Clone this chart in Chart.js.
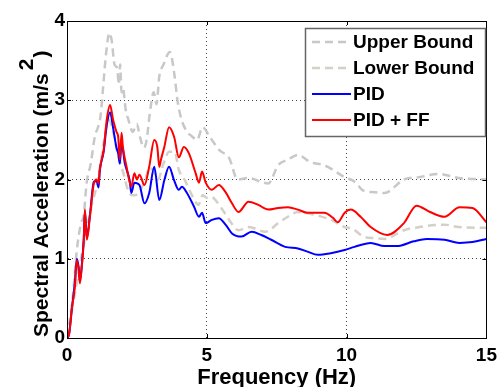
<!DOCTYPE html>
<html>
<head>
<meta charset="utf-8">
<script src="https://cdn.jsdelivr.net/npm/chart.js@4.4.1/dist/chart.umd.min.js"></script>
<style>
  html, body { margin: 0; padding: 0; background: #fff; overflow: hidden; }
  #wrap { width: 503px; height: 387px; position: relative; }
</style>
</head>
<body>
<div id="wrap"><canvas id="c" width="503" height="387"></canvas></div>
<script>
// Response spectra: [frequency (Hz), spectral acceleration (m/s^2)]
const upperBound = [[0,0],[0.2,0.5],[0.35,1.1],[0.5,1.45],[0.6,1.55],[0.7,1.95],[0.85,2.2],[1.0,2.55],[1.1,2.65],[1.2,2.8],[1.3,3.2],[1.4,3.6],[1.52,3.85],[1.6,3.75],[1.7,3.45],[1.8,3.4],[1.85,3.2],[1.9,3.45],[1.95,3.1],[2.0,3.15],[2.1,2.88],[2.2,2.75],[2.35,2.6],[2.5,2.7],[2.6,2.55],[2.75,2.4],[2.85,2.5],[2.95,2.8],[3.1,3.1],[3.2,2.95],[3.3,3.3],[3.45,3.45],[3.68,3.61],[3.85,3.3],[3.95,3.0],[4.1,2.75],[4.3,2.6],[4.45,2.55],[4.65,2.5],[4.85,2.66],[5.1,2.54],[5.45,2.37],[5.8,2.27],[6.1,2.0],[6.5,2.02],[6.95,1.97],[7.2,1.95],[7.55,2.18],[7.9,2.25],[8.26,2.31],[8.7,2.22],[9.2,2.18],[9.93,2.03],[10.3,1.97],[10.6,1.86],[11.0,1.84],[11.35,1.83],[12.05,2.0],[12.6,2.03],[13.3,2.07],[14.0,2.02],[15,2.0]];

const lowerBound = [[0,0],[0.3,0.6],[0.5,1.0],[0.7,1.35],[0.9,1.7],[1.05,1.9],[1.2,2.2],[1.35,2.55],[1.5,2.75],[1.65,2.6],[1.8,2.35],[2.0,2.1],[2.2,1.85],[2.4,1.8],[2.6,1.85],[2.8,2.0],[2.95,2.15],[3.1,2.1],[3.25,2.0],[3.45,2.2],[3.65,2.35],[3.85,2.35],[4.0,2.12],[4.2,2.0],[4.5,1.78],[4.7,1.68],[4.85,1.8],[5.0,1.77],[5.15,1.78],[5.5,1.65],[5.8,1.49],[6.13,1.36],[6.5,1.4],[7.1,1.34],[7.55,1.45],[7.9,1.53],[8.26,1.59],[8.9,1.55],[9.45,1.49],[9.93,1.4],[10.2,1.38],[10.6,1.28],[11.0,1.26],[11.35,1.25],[12.05,1.36],[12.6,1.4],[13.5,1.43],[14.0,1.4],[15,1.39]];

const pid = [[0,0],[0.07,0.04],[0.18,0.39],[0.28,0.7],[0.35,1.0],[0.42,0.88],[0.46,0.72],[0.53,0.92],[0.6,1.26],[0.64,1.6],[0.71,1.26],[0.82,1.55],[0.96,1.97],[1.06,1.98],[1.13,1.9],[1.17,2.1],[1.31,2.35],[1.42,2.68],[1.54,2.85],[1.65,2.65],[1.77,2.4],[1.83,2.33],[1.89,2.2],[1.95,2.46],[2.07,2.2],[2.24,1.99],[2.3,1.83],[2.41,1.96],[2.59,1.93],[2.77,1.7],[2.94,1.83],[3.12,2.16],[3.3,1.74],[3.48,1.99],[3.65,2.16],[3.83,1.99],[4.0,1.87],[4.11,1.91],[4.29,1.83],[4.54,1.66],[4.72,1.53],[4.83,1.58],[4.96,1.45],[5.18,1.49],[5.43,1.51],[5.67,1.43],[5.9,1.32],[6.24,1.28],[6.6,1.34],[6.95,1.3],[7.3,1.24],[7.8,1.15],[8.26,1.13],[8.6,1.09],[8.97,1.05],[9.43,1.07],[9.93,1.11],[10.28,1.15],[10.86,1.2],[11.35,1.16],[11.8,1.16],[12.4,1.22],[12.87,1.25],[13.5,1.24],[14.04,1.2],[14.5,1.21],[15,1.25]];

const pidFF = [[0,0],[0.07,0.04],[0.18,0.39],[0.28,0.64],[0.35,0.98],[0.42,0.85],[0.46,0.69],[0.53,0.9],[0.6,1.24],[0.64,1.62],[0.71,1.24],[0.82,1.53],[0.96,1.95],[1.06,2.0],[1.13,1.95],[1.17,2.12],[1.31,2.37],[1.42,2.75],[1.54,2.94],[1.65,2.75],[1.77,2.6],[1.83,2.54],[1.89,2.25],[1.95,2.59],[2.0,2.41],[2.13,2.16],[2.3,1.91],[2.41,2.08],[2.5,2.0],[2.59,2.06],[2.77,1.93],[2.94,2.16],[3.12,2.5],[3.23,2.41],[3.3,2.16],[3.36,2.25],[3.48,2.41],[3.65,2.66],[3.83,2.54],[4.0,2.28],[4.18,2.41],[4.36,2.33],[4.6,2.08],[4.72,1.96],[4.83,2.1],[4.96,1.96],[5.18,1.87],[5.43,1.93],[5.67,1.84],[5.9,1.7],[6.13,1.59],[6.49,1.72],[6.84,1.68],[7.2,1.62],[7.55,1.64],[7.9,1.65],[8.26,1.62],[8.6,1.58],[9.2,1.58],[9.5,1.52],[9.68,1.46],[9.93,1.58],[10.15,1.62],[10.5,1.53],[10.86,1.4],[11.45,1.3],[12.05,1.45],[12.5,1.67],[12.98,1.59],[13.5,1.53],[14.04,1.65],[14.5,1.64],[15,1.46]];

const seriesLabels = ['Upper Bound', 'Lower Bound', 'PID', 'PID + FF'];
const xTicks = [0, 5, 10, 15];
const yTicks = [0, 1, 2, 3, 4];

const FONT = "'Liberation Sans', Arial, sans-serif";
const toPoints = arr => arr.map(([x, y]) => ({ x, y }));

const styles = [
  { color: 'rgb(200,200,200)', width: 2.5, dash: [8, 5], order: 4 },
  { color: 'rgb(212,208,200)', width: 2.5, dash: [8, 5], order: 3 },
  { color: 'rgb(0,0,255)',     width: 2,   dash: [],     order: 2 },
  { color: 'rgb(255,0,0)',     width: 2,   dash: [],     order: 1 }
];
const seriesData = [upperBound, lowerBound, pid, pidFF];

const datasets = seriesData.map((d, i) => ({
  label: seriesLabels[i],
  data: toPoints(d),
  borderColor: styles[i].color,
  borderWidth: styles[i].width,
  borderDash: styles[i].dash,
  order: styles[i].order,
  pointRadius: 0,
  fill: false,
  cubicInterpolationMode: 'monotone'
}));

// Axes frame, inward ticks, legend and axis titles
const decorations = {
  id: 'decorations',
  afterDraw(chart) {
    const { ctx, chartArea: a, scales } = chart;
    ctx.save();
    // box
    ctx.strokeStyle = '#000';
    ctx.lineWidth = 1;
    ctx.setLineDash([]);
    ctx.strokeRect(Math.round(a.left) + 0.5, Math.round(a.top) + 0.5,
                   Math.round(a.right - a.left), Math.round(a.bottom - a.top));
    // inward tick marks
    const tl = 4;
    ctx.beginPath();
    xTicks.forEach(v => {
      const px = Math.round(scales.x.getPixelForValue(v)) + 0.5;
      ctx.moveTo(px, a.bottom); ctx.lineTo(px, a.bottom - tl);
      ctx.moveTo(px, a.top); ctx.lineTo(px, a.top + tl);
    });
    yTicks.forEach(v => {
      const py = Math.round(scales.y.getPixelForValue(v)) + 0.5;
      ctx.moveTo(a.left, py); ctx.lineTo(a.left + tl, py);
      ctx.moveTo(a.right, py); ctx.lineTo(a.right - tl, py);
    });
    ctx.stroke();

    // legend
    const lx = 305, ly = 28, lw = 180, lh = 108;
    ctx.fillStyle = '#fff';
    ctx.fillRect(lx, ly, lw, lh);
    ctx.strokeStyle = '#666';
    ctx.lineWidth = 1.5;
    ctx.strokeRect(lx + 0.5, ly + 0.5, lw, lh);
    ctx.font = 'bold 19px ' + FONT;
    ctx.textBaseline = 'middle';
    ctx.textAlign = 'left';
    chart.data.datasets.forEach((ds, i) => {
      const y = 42 + i * 26;
      ctx.strokeStyle = ds.borderColor;
      ctx.lineWidth = ds.borderWidth;
      ctx.setLineDash(ds.borderDash);
      ctx.beginPath();
      ctx.moveTo(312, y); ctx.lineTo(351, y);
      ctx.stroke();
      ctx.setLineDash([]);
      ctx.fillStyle = '#000';
      ctx.fillText(ds.label, 353, y + 1);
    });

    // x title
    ctx.fillStyle = '#000';
    ctx.font = 'bold 22px ' + FONT;
    ctx.textAlign = 'center';
    ctx.textBaseline = 'alphabetic';
    ctx.fillText('Frequency (Hz)', (a.left + a.right) / 2, 384);

    // y title with superscript
    ctx.save();
    ctx.font = 'bold 21px ' + FONT;
    ctx.translate(48, 337);
    ctx.rotate(-Math.PI / 2);
    ctx.textAlign = 'left';
    const main = 'Spectral Acceleration (m/s';
    ctx.fillText(main, 0, 0);
    let w = ctx.measureText(main).width + 3;
    ctx.fillText('2', w, -15);
    w += ctx.measureText('2').width + 1;
    ctx.fillText(')', w, 0);
    ctx.restore();

    ctx.restore();
  }
};

new Chart(document.getElementById('c'), {
  type: 'line',
  data: { datasets },
  options: {
    responsive: false,
    animation: false,
    devicePixelRatio: 1,
    layout: { padding: { top: 21, right: 13, left: 0, bottom: 0 } },
    plugins: { legend: { display: false }, tooltip: { enabled: false } },
    scales: {
      x: {
        type: 'linear', min: 0, max: 15,
        afterBuildTicks: s => { s.ticks = xTicks.map(v => ({ value: v })); },
        afterFit: s => { s.height = 49; },
        ticks: { color: '#000', font: { family: FONT, size: 19, weight: 'bold' }, padding: 6, maxRotation: 0 },
        grid: { color: '#444', lineWidth: 1, drawTicks: false },
        border: { display: true, color: '#000', width: 1, dash: [1, 3] }
      },
      y: {
        type: 'linear', min: 0, max: 4,
        afterBuildTicks: s => { s.ticks = yTicks.map(v => ({ value: v })); },
        afterFit: s => { s.width = 67; },
        ticks: { color: '#000', font: { family: FONT, size: 19, weight: 'bold' }, padding: 2 },
        grid: { color: '#444', lineWidth: 1, drawTicks: false },
        border: { display: true, color: '#000', width: 1, dash: [1, 3] }
      }
    }
  },
  plugins: [decorations]
});
</script>
</body>
</html>
